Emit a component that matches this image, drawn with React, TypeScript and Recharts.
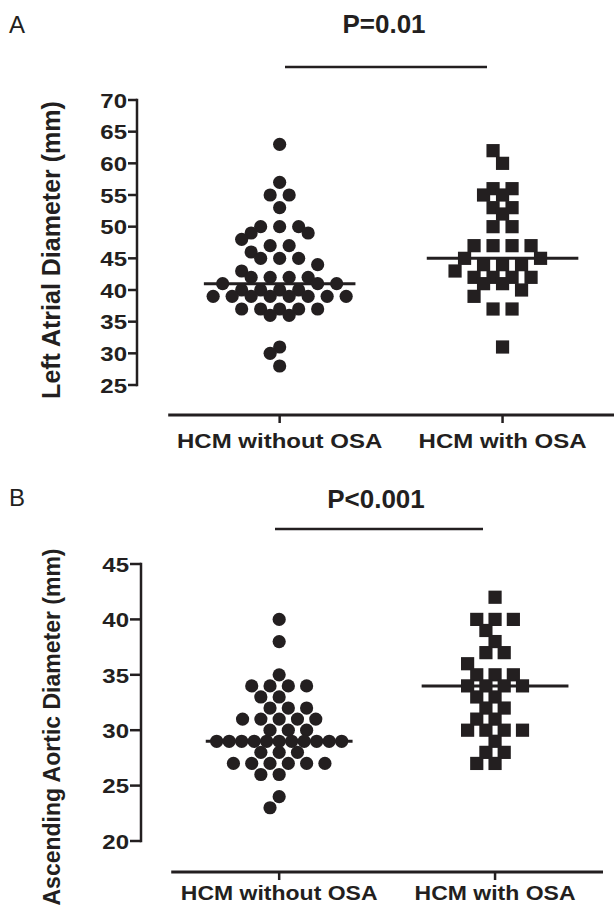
import { ReferenceLine, Scatter, ScatterChart, XAxis, YAxis } from 'recharts'

const INK = '#231f20'
const FONT = '"Liberation Sans", Arial, Helvetica, sans-serif'
const PAGE_W = 614
const X_DOMAIN: [number, number] = [0.36, 2.5]

const groupNames = ['HCM without OSA', 'HCM with OSA']

// Panel A: left atrial diameter (mm)
const laWithoutOsa = [
  63, 57, 55, 55, 53, 50, 50, 50, 49, 49, 48, 47, 47, 46, 45, 45, 45, 44, 43, 42, 42, 42, 42, 41, 41, 41,
  40, 40, 40, 40, 39, 39, 39, 39, 39, 39, 39, 39, 37, 37, 37, 37, 37, 36, 36, 31, 30, 28,
]
const laWithOsa = [
  62, 60, 56, 56, 55, 55, 53, 53, 52, 50, 50, 47, 47, 47, 47, 45, 45, 44, 44, 44, 43, 42, 42, 42, 42, 41,
  41, 40, 39, 37, 37, 31,
]
const laTicks = [25, 30, 35, 40, 45, 50, 55, 60, 65, 70]

// Panel B: ascending aortic diameter (mm)
const aoWithoutOsa = [
  40, 38, 35, 34, 34, 34, 34, 33, 33, 32, 32, 32, 31, 31, 31, 31, 31, 30, 30, 30, 29, 29, 29, 29, 29, 29,
  29, 29, 29, 29, 29, 28, 28, 28, 27, 27, 27, 27, 27, 27, 26, 26, 24, 23,
]
const aoWithOsa = [
  42, 40, 40, 40, 39, 38, 37, 37, 36, 35, 35, 35, 34, 34, 34, 34, 33, 33, 32, 32, 31, 31, 30, 30, 30, 30,
  29, 28, 28, 27, 27,
]
const aoTicks = [20, 25, 30, 35, 40, 45]

function median(values: number[]) {
  const s = [...values].sort((a, b) => a - b)
  const m = Math.floor(s.length / 2)
  return s.length % 2 ? s[m] : (s[m - 1] + s[m]) / 2
}

// rough GraphPad-like dot layout: centred rows of equal values, biggest rows first,
// later points nudged by half steps when they hit a neighbour. Very long rows are
// squeezed and left out of the collision test.
function swarm(values: number[], pxPerY: number, step: number) {
  const DX = 10.5
  const DY = 13
  const MAX_SPAN = 140
  const SQUEEZED_SPAN = 125
  const half = step / 2
  const offsets = new Array(values.length).fill(0)
  const placed: { x: number; y: number; row: number }[] = []
  const rows = new Map<number, number[]>()
  values.forEach((v, i) => rows.set(v, [...(rows.get(v) ?? []), i]))
  const med = median(values)
  const keys = [...rows.keys()].sort(
    (a, b) =>
      rows.get(b)!.length - rows.get(a)!.length || Math.abs(a - med) - Math.abs(b - med) || a - b,
  )
  for (const key of keys) {
    const idx = rows.get(key)!
    const n = idx.length
    const crowded = (n - 1) * step > MAX_SPAN
    const gap = crowded ? SQUEEZED_SPAN / (n - 1) : step
    const y = key * pxPerY
    idx.forEach((pi, j) => {
      const ideal = (j - (n - 1) / 2) * gap
      if (crowded) {
        offsets[pi] = ideal
        return
      }
      const cands = [ideal]
      for (let k = -16; k <= 16; k++) cands.push(k * half)
      cands.sort((a, b) => Math.abs(a - ideal) - Math.abs(b - ideal))
      let best = ideal
      let bestScore = -1
      for (const c of cands) {
        let score = Infinity
        for (const p of placed) {
          const dx = Math.abs(p.x - c)
          const s = p.row === key ? dx / DX : Math.hypot(dx / DX, (p.y - y) / DY)
          score = Math.min(score, s)
        }
        if (score >= 1) {
          best = c
          break
        }
        if (score > bestScore) {
          bestScore = score
          best = c
        }
      }
      placed.push({ x: best, y, row: key })
      offsets[pi] = best
    })
  }
  return offsets
}

const Dot = (props: any) => <circle cx={props.cx} cy={props.cy} r={6.6} fill={INK} />
const Box = (props: any) => (
  <rect x={props.cx - 6.6} y={props.cy - 6.6} width={13.2} height={13.2} fill={INK} />
)

function YTick(props: any) {
  const { x, y, payload } = props
  return (
    <text
      transform={`translate(${x},${y + 1}) scale(1,0.84)`}
      textAnchor="end"
      dominantBaseline="central"
      fontFamily={FONT}
      fontWeight="bold"
      fontSize={24}
      fill={INK}
    >
      {payload.value}
    </text>
  )
}

function XTick(props: any) {
  const { x, y, payload, size, dy } = props
  return (
    <text
      transform={`translate(${x},${y + dy}) scale(1,0.87)`}
      textAnchor="middle"
      fontFamily={FONT}
      fontWeight="bold"
      fontSize={size}
      fill={INK}
    >
      {groupNames[payload.value - 1]}
    </text>
  )
}

type PanelProps = {
  top: number
  height: number
  marginTop: number
  marginRight: number
  yAxisWidth: number
  xAxisHeight: number
  axisGap: number
  ticks: number[]
  groups: number[][]
  step: number
  yTickSize: number
  xLabelSize: number
  xLabelDy: number
}

function Panel(p: PanelProps) {
  const plotBottom = p.height - p.xAxisHeight
  const yMin = p.ticks[0]
  const yMax = p.ticks[p.ticks.length - 1]
  const pxPerY = (plotBottom - p.axisGap - p.marginTop) / (yMax - yMin)
  const yFloor = yMin - p.axisGap / pxPerY
  const pxPerX = (PAGE_W - p.marginRight - p.yAxisWidth) / (X_DOMAIN[1] - X_DOMAIN[0])
  const series = p.groups.map((values, g) => {
    const offsets = swarm(values, pxPerY, p.step)
    return values.map((v, i) => ({ x: g + 1 + offsets[i] / pxPerX, y: v }))
  })
  const medians = p.groups.map(median)

  return (
    <div style={{ position: 'absolute', left: 0, top: p.top }}>
      <ScatterChart
        width={PAGE_W}
        height={p.height}
        margin={{ top: p.marginTop, right: p.marginRight, bottom: 0, left: 0 }}
      >
        <XAxis
          type="number"
          dataKey="x"
          domain={X_DOMAIN}
          ticks={[1, 2]}
          interval={0}
          allowDataOverflow
          axisLine={false}
          tickLine={{ stroke: INK, strokeWidth: 2.5 }}
          tickSize={8}
          tickMargin={2}
          height={p.xAxisHeight}
          tick={(t: any) => <XTick {...t} size={p.xLabelSize} dy={p.xLabelDy} />}
        />
        <YAxis
          type="number"
          dataKey="y"
          domain={[yFloor, yMax]}
          ticks={p.ticks}
          interval={0}
          allowDataOverflow
          axisLine={false}
          tickLine={{ stroke: INK, strokeWidth: 2.5 }}
          tickSize={p.yTickSize}
          tickMargin={1}
          width={p.yAxisWidth}
          tick={(t: any) => <YTick {...t} />}
        />
        <Scatter data={series[0]} shape={Dot} isAnimationActive={false} />
        <Scatter data={series[1]} shape={Box} isAnimationActive={false} />
        {medians.map((m, g) => (
          <ReferenceLine
            key={`halo${g}`}
            segment={[
              { x: g + 1 - 0.34, y: m },
              { x: g + 1 + 0.34, y: m },
            ]}
            stroke="#fff"
            strokeWidth={5.5}
            ifOverflow="visible"
          />
        ))}
        {medians.map((m, g) => (
          <ReferenceLine
            key={`med${g}`}
            segment={[
              { x: g + 1 - 0.34, y: m },
              { x: g + 1 + 0.34, y: m },
            ]}
            stroke={INK}
            strokeWidth={3}
            ifOverflow="visible"
          />
        ))}
        <ReferenceLine
          segment={[
            { x: X_DOMAIN[0], y: yMin },
            { x: X_DOMAIN[0], y: yMax },
          ]}
          stroke={INK}
          strokeWidth={2.5}
          strokeLinecap="square"
          ifOverflow="visible"
        />
        <ReferenceLine
          segment={[
            { x: 0.5, y: yFloor },
            { x: 2.5, y: yFloor },
          ]}
          stroke={INK}
          strokeWidth={2.8}
          ifOverflow="visible"
        />
      </ScatterChart>
    </div>
  )
}

export default function App() {
  const label = { fontFamily: FONT, fill: INK }
  return (
    <div style={{ position: 'absolute', left: 0, top: 0, width: PAGE_W, height: 908, background: '#fff' }}>
      <Panel
        top={0}
        height={460}
        marginTop={100}
        marginRight={0}
        yAxisWidth={137}
        xAxisHeight={45}
        axisGap={30}
        ticks={laTicks}
        groups={[laWithoutOsa, laWithOsa]}
        step={19}
        yTickSize={9}
        xLabelSize={24}
        xLabelDy={23}
      />
      <Panel
        top={460}
        height={448}
        marginTop={104}
        marginRight={11}
        yAxisWidth={141}
        xAxisHeight={36}
        axisGap={31}
        ticks={aoTicks}
        groups={[aoWithoutOsa, aoWithOsa]}
        step={18.3}
        yTickSize={11}
        xLabelSize={23}
        xLabelDy={18}
      />
      <svg width={PAGE_W} height={908} style={{ position: 'absolute', left: 0, top: 0, pointerEvents: 'none' }}>
        <text x={9} y={33} fontSize={24} {...label}>
          A
        </text>
        <text x={384} y={33} textAnchor="middle" fontSize={26} fontWeight="bold" {...label}>
          P=0.01
        </text>
        <line x1={285} x2={487} y1={67} y2={67} stroke={INK} strokeWidth={2.5} />
        <text transform="translate(60,250) rotate(-90)" textAnchor="middle" fontSize={25} fontWeight="bold" {...label}>
          Left Atrial Diameter (mm)
        </text>
        <text x={9} y={506} fontSize={24} {...label}>
          B
        </text>
        <text x={376} y={508} textAnchor="middle" fontSize={26} fontWeight="bold" {...label}>
          P&lt;0.001
        </text>
        <line x1={275} x2={483} y1={529} y2={529} stroke={INK} strokeWidth={2.5} />
        <text transform="translate(60,727) rotate(-90)" textAnchor="middle" fontSize={23} fontWeight="bold" {...label}>
          Ascending Aortic Diameter (mm)
        </text>
      </svg>
    </div>
  )
}
